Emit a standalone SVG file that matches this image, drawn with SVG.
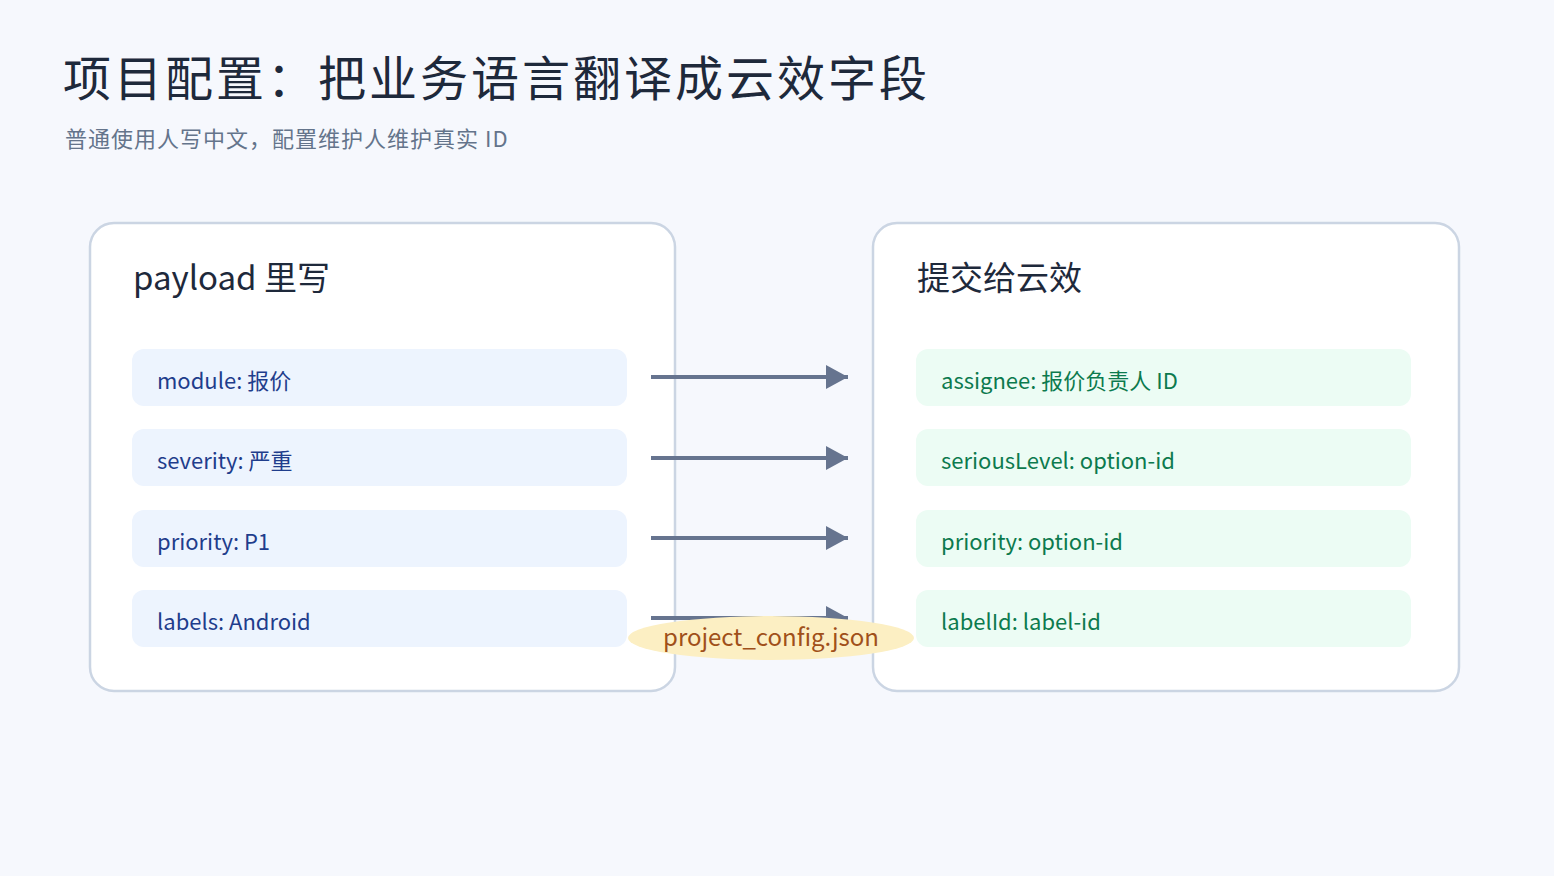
<svg xmlns="http://www.w3.org/2000/svg" width="1554" height="876" viewBox="0 0 1554 876">
<style>
text{font-family:"Noto Sans CJK SC","Noto Sans",sans-serif}
.panel{fill:#fff;stroke:#cbd5e3;stroke-width:2.5}
.h{font-size:33px;fill:#1e293b}
.l{fill:#edf4fe}.r{fill:#ecfcf4}
.lt{font-size:22px;fill:#1f3d8c}.rt{font-size:22px;fill:#0c7a4e}
.c{stroke:#66748f;stroke-width:4;fill:none;marker-end:url(#a)}
</style>
<defs><marker id="a" markerUnits="userSpaceOnUse" markerWidth="24" markerHeight="26" refX="22" refY="12" orient="auto"><path d="M0,0L22,12L0,24Z" fill="#66748f"/></marker></defs>
<rect width="1554" height="876" fill="#f6f8fd"/>
<text x="63" y="96" font-size="48" fill="#1e293b" letter-spacing="3">项目配置：把业务语言翻译成云效字段</text>
<text x="65" y="147" font-size="22" fill="#64748b" letter-spacing="1">普通使用人写中文，配置维护人维护真实 ID</text>
<g id="left"><rect class="panel" x="90" y="223" width="585" height="468" rx="24"/>
<text class="h" x="133" y="290">payload 里写</text></g>
<g id="right"><rect class="panel" x="873" y="223" width="586" height="468" rx="24"/>
<text class="h" x="917" y="290">提交给云效</text></g>
<g id="l1"><rect class="l" x="132" y="349" width="495" height="57" rx="12"/><text class="lt" x="157" y="389">module: 报价</text></g>
<g id="l2"><rect class="l" x="132" y="429" width="495" height="57" rx="12"/><text class="lt" x="157" y="469">severity: 严重</text></g>
<g id="l3"><rect class="l" x="132" y="510" width="495" height="57" rx="12"/><text class="lt" x="157" y="550">priority: P1</text></g>
<g id="l4"><rect class="l" x="132" y="590" width="495" height="57" rx="12"/><text class="lt" x="157" y="630">labels: Android</text></g>
<g id="r1"><rect class="r" x="916" y="349" width="495" height="57" rx="12"/><text class="rt" x="941" y="389">assignee: 报价负责人 ID</text></g>
<g id="r2"><rect class="r" x="916" y="429" width="495" height="57" rx="12"/><text class="rt" x="941" y="469">seriousLevel: option-id</text></g>
<g id="r3"><rect class="r" x="916" y="510" width="495" height="57" rx="12"/><text class="rt" x="941" y="550">priority: option-id</text></g>
<g id="r4"><rect class="r" x="916" y="590" width="495" height="57" rx="12"/><text class="rt" x="941" y="630">labelId: label-id</text></g>
<g id="connectors">
<line class="c" x1="651" y1="377" x2="848" y2="377"/>
<line class="c" x1="651" y1="458" x2="848" y2="458"/>
<line class="c" x1="651" y1="538" x2="848" y2="538"/>
<line class="c" x1="651" y1="618" x2="848" y2="618"/>
<ellipse cx="771" cy="638" rx="143" ry="22" fill="#fcefc3"/>
<text x="771" y="646" font-size="24" fill="#a0501a" text-anchor="middle">project_config.json</text>
</g>
</svg>
